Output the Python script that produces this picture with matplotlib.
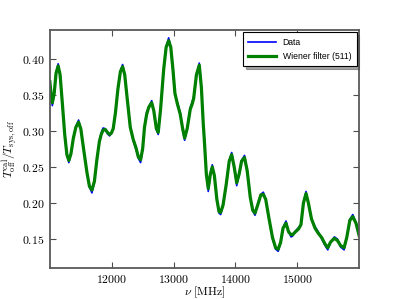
import matplotlib

matplotlib.use("Agg")
import matplotlib.pyplot as plt

plt.rcParams["mathtext.fontset"] = "cm"

# frequency grid [MHz]
freq = [
    11000, 11020, 11040, 11070, 11100, 11134, 11165, 11200, 11240, 11275,
    11307, 11340, 11380, 11420, 11464, 11500, 11550, 11600, 11640, 11680,
    11720, 11760, 11800, 11830, 11860, 11895, 11930, 11966, 11995, 12024,
    12060, 12100, 12140, 12176, 12210, 12250, 12300, 12348, 12391, 12430,
    12467, 12500, 12530, 12565, 12600, 12646, 12680, 12720, 12752, 12790,
    12840, 12880, 12921, 12955, 12990, 13022, 13060, 13108, 13145, 13179,
    13220, 13270, 13300, 13325, 13370, 13416, 13450, 13480, 13497, 13530,
    13561, 13595, 13626, 13660, 13700, 13735, 13762, 13800, 13850, 13900,
    13940, 13980, 14021, 14060, 14100, 14147, 14190, 14240, 14280, 14317,
    14360, 14410, 14451, 14490, 14540, 14600, 14650, 14692, 14730, 14770,
    14818, 14860, 14900, 14924, 14970, 15021, 15060, 15100, 15142, 15180,
    15230, 15288, 15340, 15396, 15450, 15493, 15540, 15600, 15650, 15700,
    15757, 15800, 15850, 15898, 15950, 16000,
]

# Wiener filtered curve
wiener = [
    0.368, 0.350, 0.339, 0.352, 0.380, 0.390, 0.378, 0.340, 0.295, 0.267,
    0.259, 0.268, 0.290, 0.305, 0.312, 0.303, 0.272, 0.242, 0.223, 0.218,
    0.230, 0.260, 0.285, 0.295, 0.301, 0.302, 0.298, 0.295, 0.297, 0.303,
    0.325, 0.358, 0.382, 0.389, 0.378, 0.345, 0.305, 0.288, 0.277, 0.264,
    0.260, 0.275, 0.305, 0.323, 0.333, 0.339, 0.328, 0.304, 0.298, 0.330,
    0.385, 0.416, 0.425, 0.416, 0.385, 0.352, 0.338, 0.323, 0.304, 0.290,
    0.303, 0.330, 0.337, 0.345, 0.378, 0.391, 0.360, 0.310, 0.288, 0.240,
    0.220, 0.240, 0.250, 0.238, 0.205, 0.188, 0.187, 0.197, 0.225, 0.258,
    0.267, 0.250, 0.228, 0.240, 0.258, 0.263, 0.245, 0.208, 0.190, 0.186,
    0.197, 0.211, 0.212, 0.205, 0.180, 0.152, 0.138, 0.136, 0.145, 0.165,
    0.172, 0.160, 0.156, 0.156, 0.160, 0.164, 0.170, 0.200, 0.213, 0.200,
    0.178, 0.165, 0.158, 0.152, 0.143, 0.138, 0.146, 0.151, 0.148, 0.141,
    0.138, 0.152, 0.176, 0.181, 0.172, 0.155,
]

# raw data, peeks out slightly at the extrema
data = [
    0.368, 0.348, 0.335, 0.352, 0.381, 0.393, 0.378, 0.340, 0.295, 0.266,
    0.256, 0.268, 0.291, 0.306, 0.315, 0.303, 0.272, 0.242, 0.222, 0.214,
    0.230, 0.260, 0.286, 0.297, 0.304, 0.303, 0.296, 0.293, 0.297, 0.304,
    0.325, 0.358, 0.383, 0.392, 0.378, 0.345, 0.306, 0.286, 0.275, 0.262,
    0.256, 0.275, 0.306, 0.326, 0.333, 0.342, 0.328, 0.302, 0.295, 0.330,
    0.385, 0.417, 0.429, 0.416, 0.385, 0.352, 0.340, 0.325, 0.302, 0.287,
    0.303, 0.332, 0.340, 0.347, 0.378, 0.394, 0.360, 0.310, 0.288, 0.240,
    0.216, 0.240, 0.253, 0.238, 0.205, 0.186, 0.184, 0.197, 0.225, 0.259,
    0.270, 0.250, 0.224, 0.240, 0.259, 0.266, 0.245, 0.208, 0.189, 0.183,
    0.198, 0.212, 0.215, 0.205, 0.180, 0.151, 0.136, 0.133, 0.145, 0.166,
    0.175, 0.160, 0.153, 0.154, 0.161, 0.166, 0.170, 0.201, 0.216, 0.200,
    0.178, 0.167, 0.160, 0.150, 0.141, 0.135, 0.146, 0.153, 0.150, 0.139,
    0.135, 0.152, 0.177, 0.184, 0.172, 0.155,
]

xticks = [12000, 13000, 14000, 15000]
yticks = [0.15, 0.20, 0.25, 0.30, 0.35, 0.40]

fig = plt.figure(figsize=(3.99, 2.99), dpi=100)
ax = fig.add_axes([0.125, 0.104, 0.775, 0.796])

ax.plot(freq, data, color="blue", lw=1.2, label="Data")
ax.plot(freq, wiener, color="green", lw=2.3, label="Wiener filter (511)")

ax.set_xlim(11000, 16000)
ax.set_ylim(0.11, 0.44)
ax.set_xticks(xticks)
ax.set_xticklabels([f"${t}$" for t in xticks])
ax.set_yticks(yticks)
ax.set_yticklabels([f"${t:.2f}$" for t in yticks])
ax.tick_params(direction="in", top=True, right=True, length=4, width=0.8,
               labelsize=8.5, color="0.3", pad=4)
for s in ax.spines.values():
    s.set_color("0.35")
    s.set_linewidth(1.3)

ax.set_xlabel(r"$\nu\ [\mathrm{MHz}]$", fontsize=8.5)
ax.xaxis.set_label_coords(0.5, -0.068)
ax.set_ylabel(r"$T_{\rm off}^{\rm cal}/T_{\rm sys,off}$", fontsize=8.5, labelpad=1)

leg = ax.legend(loc="upper right", shadow=True, fancybox=False,
                borderaxespad=0.3, handlelength=3.2, framealpha=1,
                borderpad=0.6, labelspacing=0.6,
                prop={"family": "Liberation Sans", "size": 6.2})
leg.get_frame().set_edgecolor("black")
leg.get_frame().set_linewidth(0.8)

fig.savefig("out.png", dpi=100)
